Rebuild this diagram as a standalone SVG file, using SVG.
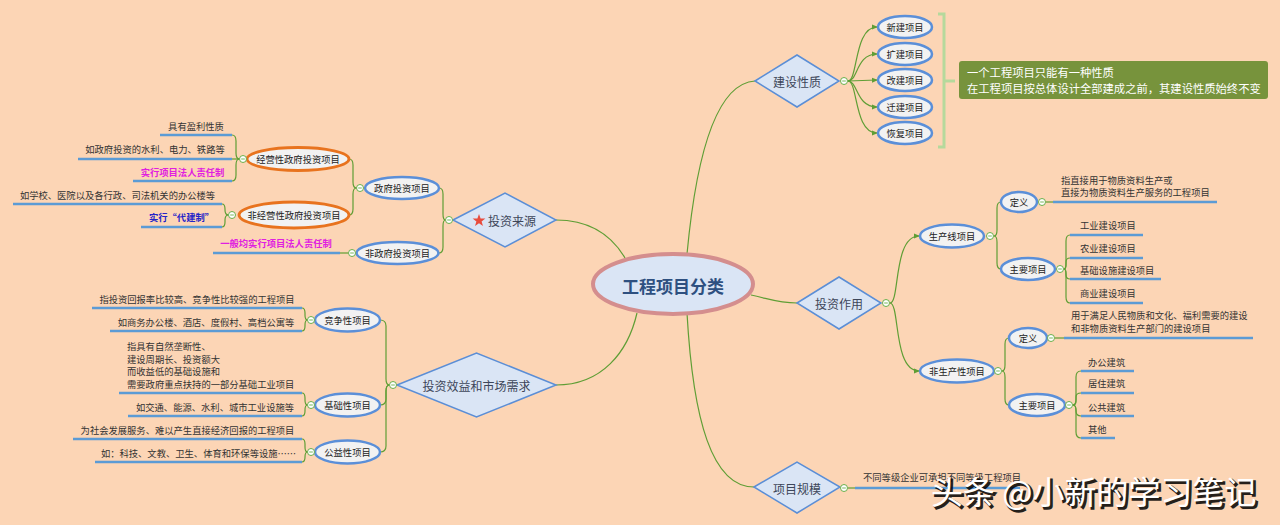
<svg xmlns="http://www.w3.org/2000/svg" xmlns:xlink="http://www.w3.org/1999/xlink" width="1280" height="525" viewBox="0 0 1280 525">
<style>
.conn{fill:none;stroke:#5F9E35;stroke-width:1.2}
.ul{stroke:#5B9BD5;stroke-width:2.5}
.dia{fill:#DAE5F5;stroke:#5B8ED6;stroke-width:1.5}
.ell{fill:#F2F2F2;stroke:#5B8FD8;stroke-width:2.5}
.ello{fill:#F2F2F2;stroke:#E8731E;stroke-width:2.8}
text{font-family:"Noto Sans CJK SC","Noto Sans",sans-serif;dominant-baseline:central}
.t{font-size:9.3px;fill:#333}
.n{font-size:9.3px;fill:#222;text-anchor:middle}
.dt{font-size:12px;fill:#3D4659;text-anchor:middle}
.mg{font-size:9.3px;fill:#E020E0;font-weight:bold;text-anchor:middle}
.bl{font-size:9.3px;fill:#2424C8;font-weight:bold;text-anchor:middle}
.m{text-anchor:middle}
</style>
<defs>
<g id="dot"><circle r="3.5" fill="#fff" stroke="#6AAF4A" stroke-width="1"/><line x1="-1.8" y1="0" x2="1.8" y2="0" stroke="#6AAF4A" stroke-width="0.9"/></g>
<marker id="arr" viewBox="0 0 6 6" refX="5" refY="3" markerWidth="5" markerHeight="5" orient="auto"><path d="M0,0.5 L6,3 L0,5.5 z" fill="#5F9E35"/></marker>
</defs>
<rect x="0" y="0" width="1280" height="525" fill="#FCD5B5"/>

<g id="connectors">
<path class="conn" d="M687 254 C693 190,708 84,755 81"/>
<path class="conn" d="M625 258 C612 236,592 220,556 220"/>
<path class="conn" d="M637 313 C628 352,602 385,556 385"/>
<path class="conn" d="M751 295 C770 299,778 303,797 303"/>
<path class="conn" d="M687 313 C693 420,712 487,754 487"/>
<!-- 建设性质 -->
<path class="conn" marker-end="url(#arr)" d="M848 81 C858 81,854 27,877 27"/>
<path class="conn" marker-end="url(#arr)" d="M848 81 C858 81,856 54,877 54"/>
<path class="conn" marker-end="url(#arr)" d="M848 81 L877 80"/>
<path class="conn" marker-end="url(#arr)" d="M848 81 C858 81,856 107,877 107"/>
<path class="conn" marker-end="url(#arr)" d="M848 81 C858 81,854 133,877 133"/>
<!-- 投资作用 -->
<path class="conn" marker-end="url(#arr)" d="M890 303 C900 303,893 236,919 236"/>
<path class="conn" marker-end="url(#arr)" d="M890 303 C900 303,893 371,919 371"/>
<!-- 生产线 -->
<path class="conn" d="M994 236 Q997 236 997 230 L997 208 Q997 202 1001 202"/>
<path class="conn" d="M994 236 Q997 236 997 242 L997 263 Q997 269 1001 269"/>
<path class="conn" d="M1046 202 L1053 202"/>
<path class="conn" d="M1064 269 Q1066 269 1066 263 L1066 241 Q1066 235 1070 235"/>
<path class="conn" d="M1064 269 Q1066 269 1066 265 L1066 262 Q1066 258 1070 258"/>
<path class="conn" d="M1064 269 Q1066 269 1066 273 L1066 275 Q1066 279 1070 279"/>
<path class="conn" d="M1064 269 Q1066 269 1066 275 L1066 297 Q1066 303 1070 303"/>
<!-- 非生产性 -->
<path class="conn" d="M1002 371 Q1005 371 1005 365 L1005 344 Q1005 338 1009 338"/>
<path class="conn" d="M1002 371 Q1005 371 1005 377 L1005 399 Q1005 405 1009 405"/>
<path class="conn" d="M1055 338 L1064 338"/>
<path class="conn" d="M1073 405 Q1076 405 1076 399 L1076 377 Q1076 371 1081 371"/>
<path class="conn" d="M1073 405 Q1076 405 1076 401 L1076 397 Q1076 393 1081 393"/>
<path class="conn" d="M1073 405 Q1076 405 1076 410 L1076 411 Q1076 416 1081 416"/>
<path class="conn" d="M1073 405 Q1076 405 1076 411 L1076 432 Q1076 438 1081 438"/>
<!-- 项目规模 -->
<path class="conn" d="M848 488 L855 488"/>
<!-- 投资来源 -->
<path class="conn" d="M445.5 220 Q443 220 443 214 L443 194 Q443 188 439 188"/>
<path class="conn" d="M445.5 220 Q443 220 443 226 L443 247 Q443 253 439 253"/>
<path class="conn" d="M356.5 188 Q353 188 353 182 L353 165 Q353 159 349 159"/>
<path class="conn" d="M356.5 188 Q353 188 353 194 L353 209 Q353 215 349 215"/>
<path class="conn" d="M239.5 159 Q236 159 236 153 L236 141 Q236 135 232 135"/>
<path class="conn" d="M239.5 159 L232 159"/>
<path class="conn" d="M239.5 159 Q236 159 236 165 L236 175 Q236 181 232 181"/>
<path class="conn" d="M228.5 215 Q225 215 225 210 L225 209 Q225 204 222 204"/>
<path class="conn" d="M228.5 215 Q225 215 225 220 L225 222 Q225 227 222 227"/>
<path class="conn" d="M348.5 253 L340 253"/>
<!-- 投资效益 -->
<path class="conn" d="M389.5 385 Q386 385 386 379 L386 326 Q386 320 380 320"/>
<path class="conn" d="M389.5 385 Q386 385 386 391 L386 399 Q386 405 380 405"/>
<path class="conn" d="M389.5 385 Q386 385 386 391 L386 446 Q386 452 380 452"/>
<path class="conn" d="M307.5 320 Q305 320 305 315 L305 313 Q305 308 302 308"/>
<path class="conn" d="M307.5 320 Q305 320 305 325 L305 326 Q305 331 302 331"/>
<path class="conn" d="M307.5 405 Q305 405 305 400 L305 398 Q305 393 302 393"/>
<path class="conn" d="M307.5 405 Q305 405 305 410 L305 411 Q305 416 302 416"/>
<path class="conn" d="M307.5 452 Q305 452 305 447 L305 444 Q305 439 302 439"/>
<path class="conn" d="M307.5 452 Q305 452 305 457 L305 457 Q305 462 302 462"/>
</g>

<g id="center">
<ellipse cx="673" cy="284" rx="80" ry="30" fill="#DAE5F5" stroke="#D48E8E" stroke-width="4"/>
<text x="673" y="285" class="m" font-size="17" font-weight="bold" fill="#2E5080">工程项目分类</text>
</g>

<g id="jianshexingzhi">
<polygon class="dia" points="755,81 797,55 839,81 797,107"/>
<text x="797" y="81" class="dt">建设性质</text>
<use href="#dot" x="844" y="81"/>
</g>
<g id="xinjian"><ellipse class="ell" cx="905" cy="27" rx="27" ry="11"/><text x="905" y="27" class="n">新建项目</text></g>
<g id="kuojian"><ellipse class="ell" cx="905" cy="54" rx="27" ry="11"/><text x="905" y="54" class="n">扩建项目</text></g>
<g id="gaijian"><ellipse class="ell" cx="905" cy="80" rx="27" ry="11"/><text x="905" y="80" class="n">改建项目</text></g>
<g id="qianjian"><ellipse class="ell" cx="905" cy="107" rx="27" ry="11"/><text x="905" y="107" class="n">迁建项目</text></g>
<g id="huifu"><ellipse class="ell" cx="905" cy="133" rx="27" ry="11"/><text x="905" y="133" class="n">恢复项目</text></g>
<g id="summary">
<path d="M938 14 L944 14 L944 147 L938 147 M944 81 L955 81" fill="none" stroke="#B5D99C" stroke-width="3"/>
<rect x="959" y="61" width="309" height="38" rx="3" fill="#77933C"/>
<text x="967" y="72" font-size="11.3" fill="#fff">一个工程项目只能有一种性质</text>
<text x="967" y="88" font-size="11.3" fill="#fff">在工程项目按总体设计全部建成之前，其建设性质始终不变</text>
</g>

<g id="touzilaiyuan">
<polygon class="dia" points="453,220 505,193 556,220 505,247"/>
<polygon points="479,214 480.6,218.5 485.4,218.6 481.6,221.5 483,226 479,223.3 475,226 476.4,221.5 472.6,218.6 477.4,218.5" fill="#E84C3D"/>
<text x="512" y="220" class="dt">投资来源</text>
<use href="#dot" x="449" y="220"/>
</g>
<g id="zhengfu"><ellipse class="ell" cx="402" cy="188" rx="37" ry="11"/><text x="402" y="188" class="n">政府投资项目</text><use href="#dot" x="360" y="188"/></g>
<g id="feizhengfu"><ellipse class="ell" cx="397.5" cy="253" rx="41" ry="11"/><text x="397.5" y="253" class="n">非政府投资项目</text><use href="#dot" x="352" y="253"/></g>
<g id="jingying"><ellipse class="ello" cx="298" cy="159" rx="51" ry="11.5"/><text x="298" y="159" class="n">经营性政府投资项目</text><use href="#dot" x="243" y="159"/></g>
<g id="feijingying"><ellipse class="ello" cx="294" cy="215" rx="55" ry="13"/><text x="294" y="215" class="n">非经营性政府投资项目</text><use href="#dot" x="232" y="215"/></g>
<g id="leaves-left-top">
<line class="ul" x1="160" y1="135" x2="232" y2="135"/><text x="196" y="126" class="t m">具有盈利性质</text>
<line class="ul" x1="78" y1="159" x2="232" y2="159"/><text x="155" y="149" class="t m">如政府投资的水利、电力、铁路等</text>
<line class="ul" x1="133" y1="181" x2="232" y2="181"/><text x="182.5" y="172" class="mg">实行项目法人责任制</text>
<line class="ul" x1="13" y1="204" x2="222" y2="204"/><text x="117.5" y="195" class="t m">如学校、医院以及各行政、司法机关的办公楼等</text>
<line class="ul" x1="141" y1="227" x2="222" y2="227"/><text x="181.5" y="217" class="bl">实行“代建制”</text>
<line class="ul" x1="213" y1="253" x2="340" y2="253"/><text x="276" y="243" class="mg">一般均实行项目法人责任制</text>
</g>

<g id="touzixiaoyi">
<polygon class="dia" points="397,385 476.5,353 556,385 476.5,417"/>
<text x="476.5" y="385" class="dt">投资效益和市场需求</text>
<use href="#dot" x="393" y="385"/>
</g>
<g id="jingzheng"><ellipse class="ell" cx="347.5" cy="320" rx="32.5" ry="11.5"/><text x="347.5" y="320" class="n">竞争性项目</text><use href="#dot" x="311" y="320"/></g>
<g id="jichu"><ellipse class="ell" cx="347.5" cy="405" rx="32.5" ry="11.5"/><text x="347.5" y="405" class="n">基础性项目</text><use href="#dot" x="311" y="405"/></g>
<g id="gongyi"><ellipse class="ell" cx="347.5" cy="452" rx="32.5" ry="11.5"/><text x="347.5" y="452" class="n">公益性项目</text><use href="#dot" x="311" y="452"/></g>
<g id="leaves-left-bottom">
<line class="ul" x1="92" y1="308" x2="302" y2="308"/><text x="197" y="299" class="t m">指投资回报率比较高、竞争性比较强的工程项目</text>
<line class="ul" x1="110" y1="331" x2="302" y2="331"/><text x="206" y="322" class="t m">如商务办公楼、酒店、度假村、高档公寓等</text>
<line class="ul" x1="119" y1="393" x2="302" y2="393"/>
<text x="127" y="346" class="t">指具有自然垄断性、</text>
<text x="127" y="358.5" class="t">建设周期长、投资额大</text>
<text x="127" y="371" class="t">而收益低的基础设施和</text>
<text x="127" y="383.5" class="t">需要政府重点扶持的一部分基础工业项目</text>
<line class="ul" x1="128" y1="416" x2="302" y2="416"/><text x="215" y="407" class="t m">如交通、能源、水利、城市工业设施等</text>
<line class="ul" x1="73" y1="439" x2="302" y2="439"/><text x="187.5" y="430" class="t m">为社会发展服务、难以产生直接经济回报的工程项目</text>
<line class="ul" x1="95" y1="462" x2="302" y2="462"/><text x="198.5" y="453" class="t m">如：科技、文教、卫生、体育和环保等设施……</text>
</g>

<g id="touzizuoyong">
<polygon class="dia" points="797,303 839,277 881,303 839,329"/>
<text x="839" y="303" class="dt">投资作用</text>
<use href="#dot" x="886" y="303"/>
</g>
<g id="shengchan"><ellipse class="ell" cx="952" cy="236" rx="32" ry="11.5"/><text x="952" y="236" class="n">生产线项目</text><use href="#dot" x="990" y="236"/></g>
<g id="dingyi1"><ellipse class="ell" cx="1019" cy="202" rx="18" ry="10"/><text x="1019" y="202" class="n">定义</text><use href="#dot" x="1042" y="202"/></g>
<g id="zhuyao1"><ellipse class="ell" cx="1028" cy="269" rx="27" ry="11"/><text x="1028" y="269" class="n">主要项目</text><use href="#dot" x="1060" y="269"/></g>
<g id="feishengchan"><ellipse class="ell" cx="957" cy="371" rx="37" ry="11.5"/><text x="957" y="371" class="n">非生产性项目</text><use href="#dot" x="998" y="371"/></g>
<g id="dingyi2"><ellipse class="ell" cx="1028" cy="338" rx="19" ry="10"/><text x="1028" y="338" class="n">定义</text><use href="#dot" x="1051" y="338"/></g>
<g id="zhuyao2"><ellipse class="ell" cx="1037" cy="405" rx="28" ry="11"/><text x="1037" y="405" class="n">主要项目</text><use href="#dot" x="1069" y="405"/></g>
<g id="leaves-right">
<line class="ul" x1="1053" y1="202" x2="1217" y2="202"/>
<text x="1061" y="180" class="t">指直接用于物质资料生产或</text>
<text x="1061" y="192" class="t">直接为物质资料生产服务的工程项目</text>
<line class="ul" x1="1070" y1="235" x2="1143" y2="235"/><text x="1080" y="225" class="t">工业建设项目</text>
<line class="ul" x1="1070" y1="258" x2="1143" y2="258"/><text x="1080" y="248" class="t">农业建设项目</text>
<line class="ul" x1="1070" y1="279" x2="1161" y2="279"/><text x="1080" y="270" class="t">基础设施建设项目</text>
<line class="ul" x1="1070" y1="303" x2="1143" y2="303"/><text x="1080" y="293" class="t">商业建设项目</text>
<line class="ul" x1="1064" y1="338" x2="1253" y2="338"/>
<text x="1071" y="315" class="t">用于满足人民物质和文化、福利需要的建设</text>
<text x="1071" y="328" class="t">和非物质资料生产部门的建设项目</text>
<line class="ul" x1="1081" y1="371" x2="1134" y2="371"/><text x="1088" y="362" class="t">办公建筑</text>
<line class="ul" x1="1081" y1="393" x2="1134" y2="393"/><text x="1088" y="383" class="t">居住建筑</text>
<line class="ul" x1="1081" y1="416" x2="1134" y2="416"/><text x="1088" y="407" class="t">公共建筑</text>
<line class="ul" x1="1081" y1="438" x2="1115" y2="438"/><text x="1088" y="429" class="t">其他</text>
</g>

<g id="xiangmuguimo">
<polygon class="dia" points="754,487 797,462 840,487 797,513"/>
<text x="797" y="488" class="dt">项目规模</text>
<use href="#dot" x="844" y="488"/>
<line class="ul" x1="855" y1="488" x2="1020" y2="488"/>
<text x="863" y="477" class="t">不同等级企业可承担不同等级工程项目</text>
</g>

<g id="watermark">
<text x="933" y="492" font-size="32" fill="#000" opacity="0.85" stroke="#000" stroke-width="1.5">头条 @小新的学习笔记</text>
<text x="931" y="490" font-size="32" fill="#fff">头条 @小新的学习笔记</text>
</g>
</svg>
